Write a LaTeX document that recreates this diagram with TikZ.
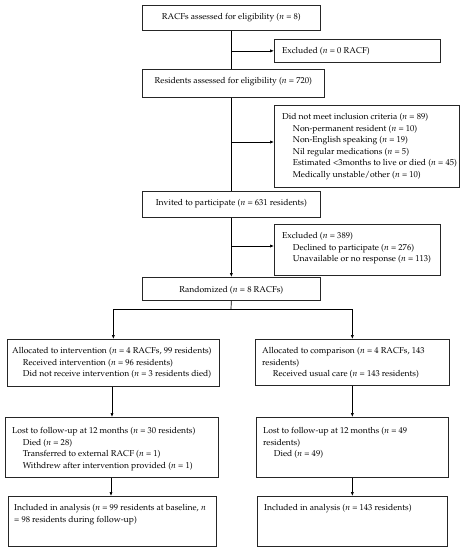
\documentclass[tikz,border=0pt]{standalone}
\usepackage[T1]{fontenc}
\usepackage{mathpazo}
\usetikzlibrary{arrows.meta}
\tikzset{
  box/.style={draw=black!85, line width=0.7pt, rectangle, inner sep=0pt, anchor=north west},
  txt/.style={inner sep=0pt, align=left, anchor=north west, font=\fontsize{8.55}{11.5}\selectfont},
  ctxt/.style={inner sep=0pt, align=center, anchor=north, font=\fontsize{8.55}{11.5}\selectfont},
  conn/.style={line width=0.7pt, black},
  arr/.style={conn, -{Latex[length=4pt,width=3.2pt]}}
}
\newcommand{\ind}{\hspace*{10.7pt}}
\begin{document}
\begin{tikzpicture}[x=1pt,y=-1pt]
\useasboundingbox (0,0) rectangle (464,550);
% boxes
\node[box, minimum width=178pt, minimum height=25pt] (b1) at (142,5) {};
\node[box, minimum width=166pt, minimum height=23pt] (ex0) at (274,39) {};
\node[box, minimum width=182pt, minimum height=28pt] (b2) at (142,69) {};
\node[box, minimum width=185pt, minimum height=82pt] (dn) at (274,105) {};
\node[box, minimum width=178pt, minimum height=26pt] (inv) at (142,191) {};
\node[box, minimum width=166pt, minimum height=51pt] (ex389) at (274,224) {};
\node[box, minimum width=178pt, minimum height=23pt] (rnd) at (142,277) {};
\node[box, minimum width=212pt, minimum height=47pt] (alI) at (7,339) {};
\node[box, minimum width=194pt, minimum height=46pt] (alC) at (255,339) {};
\node[box, minimum width=213pt, minimum height=60pt] (loI) at (5,417) {};
\node[box, minimum width=192pt, minimum height=60pt] (loC) at (256,417) {};
\node[box, minimum width=208pt, minimum height=50pt] (inI) at (8,496) {};
\node[box, minimum width=190pt, minimum height=50pt] (inC) at (257,496) {};
% texts
\node[ctxt] (t1) at ([yshift=-8.5pt]b1.north) {RACFs assessed for eligibility ($n$ = 8)};
\node[txt] (t2) at ([shift={(8pt,-8.5pt)}]ex0.north west) {Excluded ($n$ = 0 RACF)};
\node[ctxt] (t3) at ([yshift=-8.5pt]b2.north) {Residents assessed for eligibility ($n$ = 720)};
\node[txt] (t4) at ([shift={(8pt,-8.5pt)}]dn.north west) {Did not meet inclusion criteria ($n$ = 89)\\
\ind Non-permanent resident ($n$ = 10)\\
\ind Non-English speaking ($n$ = 19)\\
\ind Nil regular medications ($n$ = 5)\\
\ind Estimated {<}3months to live or died ($n$ = 45)\\
\ind Medically unstable/other ($n$ = 10)};
\node[ctxt] (t5) at ([yshift=-8.5pt]inv.north) {Invited to participate ($n$ = 631 residents)};
\node[txt] (t6) at ([shift={(8pt,-8.5pt)}]ex389.north west) {Excluded ($n$ = 389)\\
\ind Declined to participate ($n$ = 276)\\
\ind Unavailable or no response ($n$ = 113)};
\node[ctxt] (t7) at ([yshift=-9.5pt]rnd.north) {Randomized ($n$ = 8 RACFs)};
\node[txt] (t8) at ([shift={(5pt,-8.5pt)}]alI.north west) {Allocated to intervention ($n$ = 4 RACFs, 99 residents)\\
\ind Received intervention ($n$ = 96 residents)\\
\ind Did not receive intervention ($n$ = 3 residents died)};
\node[txt] (t9) at ([shift={(7pt,-8.5pt)}]alC.north west) {Allocated to comparison ($n$ = 4 RACFs, 143\\
residents)\\
\ind Received usual care ($n$ = 143 residents)};
\node[txt] (t10) at ([shift={(7pt,-10.5pt)}]loI.north west) {Lost to follow-up at 12 months ($n$ = 30 residents)\\
\ind Died ($n$ = 28)\\
\ind Transferred to external RACF ($n$ = 1)\\
\ind Withdrew after intervention provided ($n$ = 1)};
\node[txt] (t11) at ([shift={(7pt,-10.5pt)}]loC.north west) {Lost to follow-up at 12 months ($n$ = 49\\
residents)\\
\ind Died ($n$ = 49)};
\node[txt] (t12) at ([shift={(6pt,-8.5pt)}]inI.north west) {Included in analysis ($n$ = 99 residents at baseline, $n$\\
= 98 residents during follow-up)};
\node[txt] (t13) at ([shift={(7pt,-8.5pt)}]inC.north west) {Included in analysis ($n$ = 143 residents)};
% connectors
\draw[conn] (b1.south) -- (b1.south |- b2.north);
\draw[conn] (b1.south |- b2.south) -- (b1.south |- inv.north);
\draw[arr] (inv.south) -- (inv.south |- rnd.north);
\coordinate (c1) at (b1.south |- ex0.west);
\draw[arr] (c1) -- (ex0.west |- c1);
\coordinate (c2) at (231,142);
\draw[arr] (c2) -- (dn.west |- c2);
\coordinate (c3) at (231,246);
\draw[arr] (c3) -- (ex389.west |- c3);
\coordinate (br) at (231,309);
\draw[conn] (rnd.south) -- (br);
\draw[arr] (br) -| (alI.north);
\draw[arr] (br) -| (alC.north);
\draw[arr] (alI.south -| 112,0) -- (loI.north -| 112,0);
\draw[arr] (alC.south) -- (alC.south |- loC.north);
\draw[arr] (loI.south -| 111,0) -- (inI.north -| 111,0);
\draw[arr] (loC.south) -- (loC.south |- inC.north);
\end{tikzpicture}
\end{document}
